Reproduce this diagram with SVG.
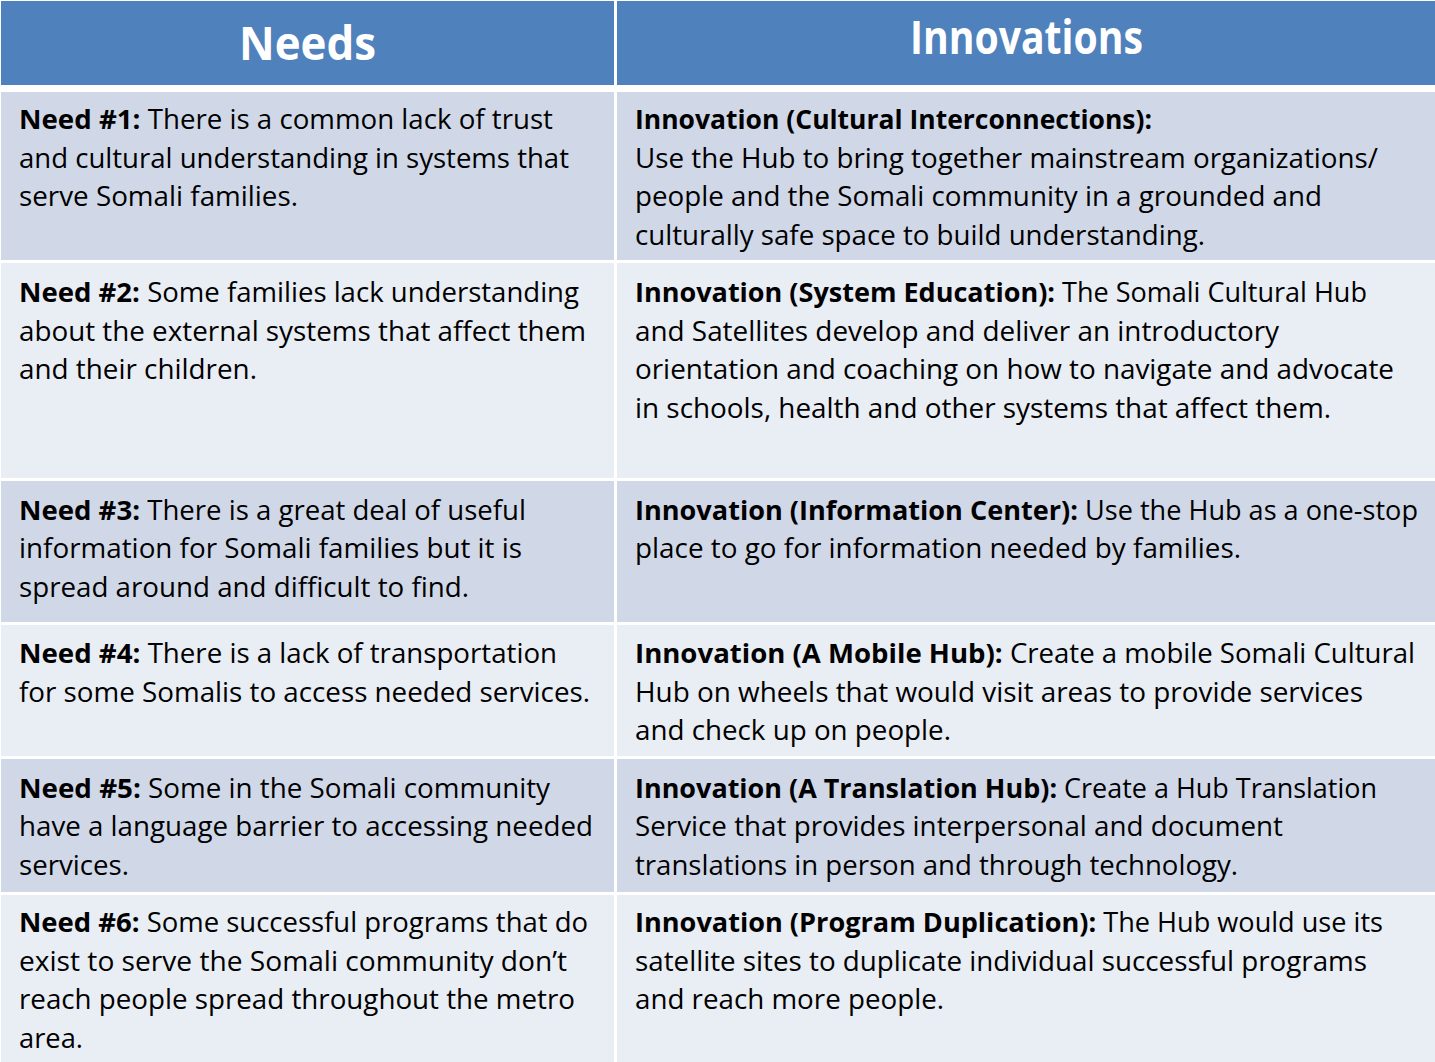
<svg xmlns="http://www.w3.org/2000/svg" width="1435" height="1062" viewBox="0 0 1435 1062">
<style>
.hd{fill:#4F81BD}
.dk{fill:#D0D8E8}
.lt{fill:#E9EDF4}
.h{font-family:"Open Sans","Noto Sans",sans-serif;font-weight:bold;font-size:46px;fill:#ffffff}
.t{font-family:"Open Sans","Noto Sans",sans-serif;font-size:27px;fill:#000000}
.b{font-weight:bold}
</style>
<rect x="0" y="0" width="1435" height="1062" fill="#ffffff"/>
<g id="header">
<rect class="hd" x="1" y="1" width="613" height="84"/>
<rect class="hd" x="617" y="1" width="818" height="84"/>
<text class="h" x="239" y="60" textLength="137" lengthAdjust="spacingAndGlyphs">Needs</text>
<text class="h" x="910" y="54" textLength="233" lengthAdjust="spacingAndGlyphs">Innovations</text>
</g>
<g id="row1">
<rect class="dk" x="1" y="92" width="613" height="168"/>
<rect class="dk" x="617" y="92" width="818" height="168"/>
<text class="t" x="19" y="129" textLength="534" lengthAdjust="spacingAndGlyphs"><tspan class="b">Need #1:</tspan> There is a common lack of trust</text>
<text class="t" x="19" y="168" textLength="550" lengthAdjust="spacingAndGlyphs">and cultural understanding in systems that</text>
<text class="t" x="19" y="206" textLength="279" lengthAdjust="spacingAndGlyphs">serve Somali families.</text>
<text class="t" x="635" y="129" textLength="517" lengthAdjust="spacingAndGlyphs"><tspan class="b">Innovation (Cultural Interconnections):</tspan></text>
<text class="t" x="635" y="168" textLength="743" lengthAdjust="spacingAndGlyphs">Use the Hub to bring together mainstream organizations/</text>
<text class="t" x="635" y="206" textLength="687" lengthAdjust="spacingAndGlyphs">people and the Somali community in a grounded and</text>
<text class="t" x="635" y="245" textLength="570" lengthAdjust="spacingAndGlyphs">culturally safe space to build understanding.</text>
</g>
<g id="row2">
<rect class="lt" x="1" y="263" width="613" height="215"/>
<rect class="lt" x="617" y="263" width="818" height="215"/>
<text class="t" x="19" y="302" textLength="560" lengthAdjust="spacingAndGlyphs"><tspan class="b">Need #2:</tspan> Some families lack understanding</text>
<text class="t" x="19" y="341" textLength="567" lengthAdjust="spacingAndGlyphs">about the external systems that affect them</text>
<text class="t" x="19" y="379" textLength="238" lengthAdjust="spacingAndGlyphs">and their children.</text>
<text class="t" x="635" y="302" textLength="732" lengthAdjust="spacingAndGlyphs"><tspan class="b">Innovation (System Education):</tspan> The Somali Cultural Hub</text>
<text class="t" x="635" y="341" textLength="644" lengthAdjust="spacingAndGlyphs">and Satellites develop and deliver an introductory</text>
<text class="t" x="635" y="379" textLength="759" lengthAdjust="spacingAndGlyphs">orientation and coaching on how to navigate and advocate</text>
<text class="t" x="635" y="418" textLength="696" lengthAdjust="spacingAndGlyphs">in schools, health and other systems that affect them.</text>
</g>
<g id="row3">
<rect class="dk" x="1" y="481" width="613" height="141"/>
<rect class="dk" x="617" y="481" width="818" height="141"/>
<text class="t" x="19" y="520" textLength="507" lengthAdjust="spacingAndGlyphs"><tspan class="b">Need #3:</tspan> There is a great deal of useful</text>
<text class="t" x="19" y="558" textLength="503" lengthAdjust="spacingAndGlyphs">information for Somali families but it is</text>
<text class="t" x="19" y="597" textLength="450" lengthAdjust="spacingAndGlyphs">spread around and difficult to find.</text>
<text class="t" x="635" y="520" textLength="783" lengthAdjust="spacingAndGlyphs"><tspan class="b">Innovation (Information Center):</tspan> Use the Hub as a one-stop</text>
<text class="t" x="635" y="558" textLength="606" lengthAdjust="spacingAndGlyphs">place to go for information needed by families.</text>
</g>
<g id="row4">
<rect class="lt" x="1" y="625" width="613" height="131"/>
<rect class="lt" x="617" y="625" width="818" height="131"/>
<text class="t" x="19" y="663" textLength="538" lengthAdjust="spacingAndGlyphs"><tspan class="b">Need #4:</tspan> There is a lack of transportation</text>
<text class="t" x="19" y="702" textLength="571" lengthAdjust="spacingAndGlyphs">for some Somalis to access needed services.</text>
<text class="t" x="635" y="663" textLength="780" lengthAdjust="spacingAndGlyphs"><tspan class="b">Innovation (A Mobile Hub):</tspan> Create a mobile Somali Cultural</text>
<text class="t" x="635" y="702" textLength="728" lengthAdjust="spacingAndGlyphs">Hub on wheels that would visit areas to provide services</text>
<text class="t" x="635" y="740" textLength="316" lengthAdjust="spacingAndGlyphs">and check up on people.</text>
</g>
<g id="row5">
<rect class="dk" x="1" y="759" width="613" height="133"/>
<rect class="dk" x="617" y="759" width="818" height="133"/>
<text class="t" x="19" y="798" textLength="531" lengthAdjust="spacingAndGlyphs"><tspan class="b">Need #5:</tspan> Some in the Somali community</text>
<text class="t" x="19" y="836" textLength="574" lengthAdjust="spacingAndGlyphs">have a language barrier to accessing needed</text>
<text class="t" x="19" y="875" textLength="110" lengthAdjust="spacingAndGlyphs">services.</text>
<text class="t" x="635" y="798" textLength="742" lengthAdjust="spacingAndGlyphs"><tspan class="b">Innovation (A Translation Hub):</tspan> Create a Hub Translation</text>
<text class="t" x="635" y="836" textLength="648" lengthAdjust="spacingAndGlyphs">Service that provides interpersonal and document</text>
<text class="t" x="635" y="875" textLength="603" lengthAdjust="spacingAndGlyphs">translations in person and through technology.</text>
</g>
<g id="row6">
<rect class="lt" x="1" y="895" width="613" height="167"/>
<rect class="lt" x="617" y="895" width="818" height="167"/>
<text class="t" x="19" y="932" textLength="569" lengthAdjust="spacingAndGlyphs"><tspan class="b">Need #6:</tspan> Some successful programs that do</text>
<text class="t" x="19" y="971" textLength="548" lengthAdjust="spacingAndGlyphs">exist to serve the Somali community don’t</text>
<text class="t" x="19" y="1009" textLength="556" lengthAdjust="spacingAndGlyphs">reach people spread throughout the metro</text>
<text class="t" x="19" y="1048" textLength="64" lengthAdjust="spacingAndGlyphs">area.</text>
<text class="t" x="635" y="932" textLength="748" lengthAdjust="spacingAndGlyphs"><tspan class="b">Innovation (Program Duplication):</tspan> The Hub would use its</text>
<text class="t" x="635" y="971" textLength="732" lengthAdjust="spacingAndGlyphs">satellite sites to duplicate individual successful programs</text>
<text class="t" x="635" y="1009" textLength="309" lengthAdjust="spacingAndGlyphs">and reach more people.</text>
</g>
<g id="connectors"></g>
</svg>
